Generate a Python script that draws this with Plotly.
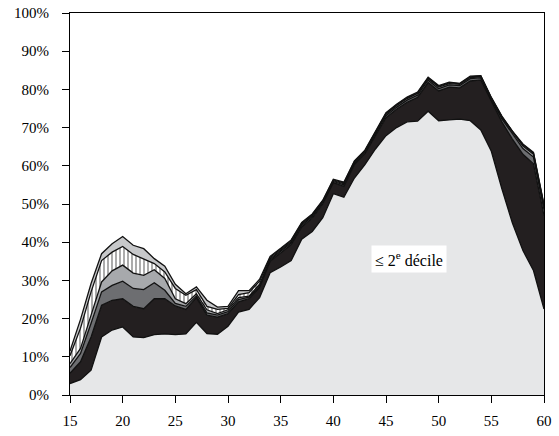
import plotly.graph_objects as go

ages = list(range(15, 61))

# Individual layer values (% of age group), stacked bottom to top
decile2 = [3.0, 4.0, 6.5, 15.2, 17.0, 17.8, 15.2, 15.0, 15.8, 16.0, 15.8, 16.0, 19.0, 16.1, 15.9, 18.0,
           21.7, 22.4, 25.5, 32.0, 33.5, 35.2, 40.8, 42.8, 46.4, 52.7, 51.8, 56.8, 60.3, 64.4, 67.9,
           70.0, 71.5, 71.7, 74.3, 71.8, 72.0, 72.2, 71.8, 69.4, 63.8, 54.0, 45.0, 37.8, 32.6, 22.5]
cum2 = [5.7, 8.7, 15.2, 23.5, 24.8, 25.2, 23.2, 22.6, 25.2, 25.2, 23.3, 22.4, 25.5, 20.9, 20.4, 21.3,
        24.4, 25.2, 28.2, 35.0, 37.2, 39.4, 44.0, 46.3, 50.0, 55.6, 54.6, 60.3, 63.2, 68.0, 72.6,
        74.8, 76.6, 77.9, 81.8, 79.6, 80.6, 80.4, 82.2, 82.5, 76.8, 71.5, 67.0, 63.0, 60.5, 47.0]
cum3 = [7.2, 10.9, 18.8, 27.0, 28.7, 29.8, 27.9, 27.6, 29.4, 27.4, 24.0, 23.2, 25.9, 21.5, 20.9, 21.8,
        25.0, 25.6, 28.6, 35.3, 37.6, 39.8, 44.4, 46.7, 50.4, 55.9, 55.0, 60.6, 63.5, 68.4, 73.1,
        75.3, 77.2, 78.5, 82.4, 80.2, 81.2, 81.0, 82.8, 83.0, 77.3, 72.3, 68.3, 64.5, 62.3, 48.5]
cum4 = [8.2, 12.2, 20.9, 29.6, 32.5, 34.0, 31.9, 31.3, 32.8, 30.5, 25.2, 23.9, 26.5, 22.3, 21.3, 22.3,
        25.5, 25.9, 29.0, 35.6, 37.9, 40.1, 44.7, 47.0, 50.6, 56.1, 55.3, 60.9, 63.7, 68.7, 73.5,
        75.7, 77.6, 78.9, 82.8, 80.6, 81.5, 81.3, 83.1, 83.3, 77.6, 72.7, 68.8, 65.2, 63.0, 49.3]
cum5 = [10.3, 17.5, 27.0, 35.2, 37.4, 38.9, 36.8, 35.7, 34.4, 32.2, 27.9, 26.1, 27.6, 23.2, 22.4, 22.7,
        26.3, 26.8, 29.8, 36.0, 38.2, 40.4, 45.0, 47.2, 50.8, 56.3, 55.5, 61.1, 63.9, 68.9, 73.7,
        75.9, 77.8, 79.1, 83.0, 80.8, 81.7, 81.5, 83.3, 83.5, 77.8, 72.9, 69.0, 65.5, 63.3, 49.6]
cum6 = [11.5, 19.8, 29.2, 37.0, 39.6, 41.5, 39.2, 38.3, 35.7, 33.7, 29.0, 26.5, 28.3, 24.8, 23.0, 23.2,
        27.3, 27.3, 30.3, 36.3, 38.4, 40.6, 45.2, 47.4, 51.0, 56.5, 55.7, 61.3, 64.1, 69.1, 73.9,
        76.1, 78.0, 79.3, 83.2, 81.0, 81.9, 81.6, 83.5, 83.6, 77.9, 73.0, 69.1, 65.7, 63.5, 49.8]

def diff(a, b):
    return [round(x - y, 2) for x, y in zip(a, b)]

decile3 = diff(cum2, decile2)
decile4 = diff(cum3, cum2)
decile5 = diff(cum4, cum3)
decile6 = diff(cum5, cum4)
decile7 = diff(cum6, cum5)

y_ticks = list(range(0, 101, 10))
y_labels = [f"{v}%" for v in y_ticks]
x_ticks = list(range(15, 61, 5))

SERIF = "Liberation Serif, Times New Roman, serif"

fig = go.Figure()
line = dict(color="#111111", width=1.3)
fig.add_trace(go.Scatter(x=ages, y=decile2, stackgroup="s", mode="lines", line=line,
                         fillcolor="#e6e7e8", name="≤ 2e décile"))
fig.add_trace(go.Scatter(x=ages, y=decile3, stackgroup="s", mode="lines", line=line,
                         fillcolor="#231f20", name="3"))
fig.add_trace(go.Scatter(x=ages, y=decile4, stackgroup="s", mode="lines", line=line,
                         fillcolor="#6d6e71", name="4"))
fig.add_trace(go.Scatter(x=ages, y=decile5, stackgroup="s", mode="lines", line=line,
                         fillcolor="#a7a9ac", name="5"))
fig.add_trace(go.Scatter(x=ages, y=decile6, stackgroup="s", mode="lines", line=line,
                         fillcolor="white",
                         fillpattern=dict(shape="|", bgcolor="white", fgcolor="#111111",
                                          size=4, solidity=0.35),
                         name="6"))
fig.add_trace(go.Scatter(x=ages, y=decile7, stackgroup="s", mode="lines", line=line,
                         fillcolor="#c7c8ca", name="7"))

fig.add_annotation(x=47.2, y=35.5, text="≤ 2<sup>e</sup> décile", showarrow=False,
                   bgcolor="white", font=dict(family=SERIF, size=16, color="black"),
                   borderpad=3)

font = dict(family=SERIF, size=15, color="black")
fig.update_layout(
    width=559, height=436,
    margin=dict(l=70, r=15, t=13, b=41, autoexpand=False),
    paper_bgcolor="white", plot_bgcolor="white",
    showlegend=False,
    font=font,
    xaxis=dict(range=[15, 60], tickvals=x_ticks, ticks="outside", ticklen=7,
               tickcolor="black", showline=True, linecolor="black", linewidth=1.2,
               mirror=True, showgrid=False, zeroline=False, tickfont=font,
               ticklabelstandoff=5, automargin=False),
    yaxis=dict(range=[0, 100], tickvals=y_ticks, ticktext=y_labels, ticks="outside",
               ticklen=7, tickcolor="black", showline=True, linecolor="black",
               linewidth=1.2, mirror=True, showgrid=False, zeroline=False, tickfont=font,
               ticklabelstandoff=10, automargin=False),
)

fig.write_html("out.html", config={"displayModeBar": False},
               post_script="document.body.style.margin='0px';document.body.style.padding='0px';")
